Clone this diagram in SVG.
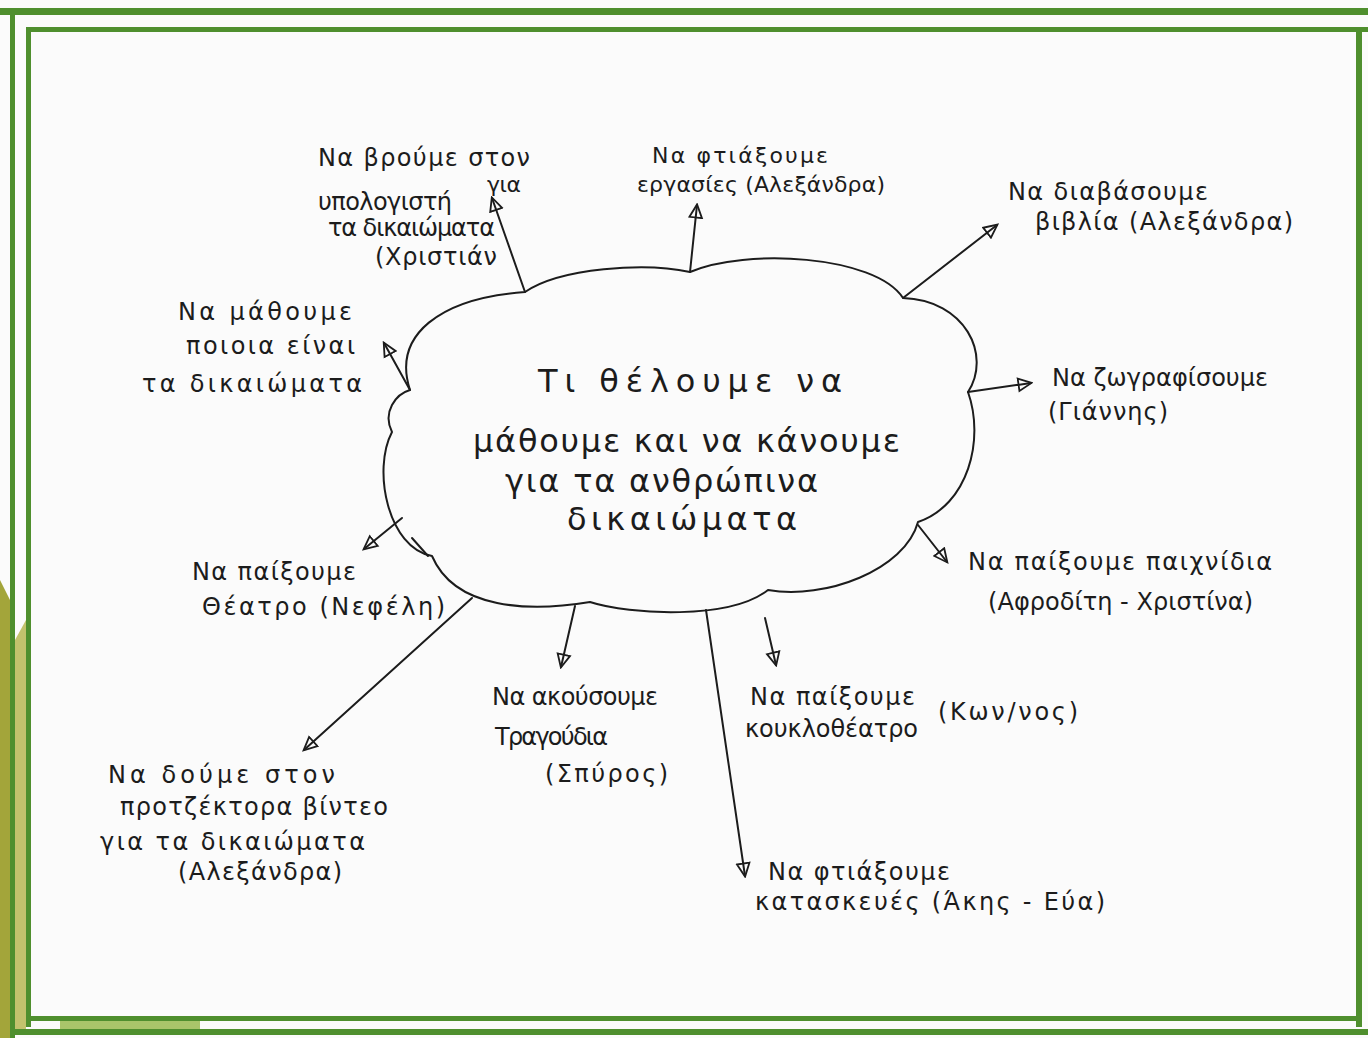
<svg xmlns="http://www.w3.org/2000/svg" width="1368" height="1038" viewBox="0 0 1368 1038">
<style>
.t{font-family:"DejaVu Sans","Liberation Sans",sans-serif;font-size:24px;fill:#1c1c1c;}
.s{font-size:22px;}
.c{font-family:"DejaVu Sans","Liberation Sans",sans-serif;font-size:32px;fill:#1c1c1c;}
.ln{fill:none;stroke:#1c1c1c;stroke-width:2;stroke-linecap:round;stroke-linejoin:round;}
.g{fill:#4f8f2e;}
</style>
<defs>
<marker id="ah" viewBox="0 0 14 14" refX="12" refY="7" markerWidth="16" markerHeight="16" markerUnits="userSpaceOnUse" orient="auto">
<path d="M1,1.5 L12.5,7 L1,12.5 Z" fill="none" stroke="#1c1c1c" stroke-width="1.6"/>
</marker>
</defs>
<rect width="1368" height="1038" fill="#fbfbfb"/>
<g id="frame">
<rect class="g" x="0" y="8" width="1368" height="7"/>
<rect class="g" x="26" y="27" width="1342" height="5"/>
<rect class="g" x="10" y="8" width="5" height="1030"/>
<rect class="g" x="26" y="27" width="5" height="1000"/>
<rect class="g" x="1356" y="27" width="6" height="1000"/>
<rect class="g" x="26" y="1016" width="1336" height="5"/>
<rect class="g" x="10" y="1029" width="1358" height="6"/>
<path d="M0,580 L10,600 L10,1038 L0,1038 Z" fill="#a3a53a"/>
<path d="M15,640 L26,620 L26,1029 L15,1029 Z" fill="#b4b44a" opacity="0.8"/>
<rect x="60" y="1021" width="140" height="8" fill="#a9c56a"/>
</g>
<g id="connectors">
<path class="ln" marker-end="url(#ah)" d="M525,292 L492,198"/>
<path class="ln" marker-end="url(#ah)" d="M690,272 L697,205"/>
<path class="ln" marker-end="url(#ah)" d="M903,298 L997,225"/>
<path class="ln" marker-end="url(#ah)" d="M410,390 L384,343"/>
<path class="ln" marker-end="url(#ah)" d="M968,392 L1031,383"/>
<path class="ln" marker-end="url(#ah)" d="M402,518 L364,549"/>
<path class="ln" marker-end="url(#ah)" d="M918,525 L947,562"/>
<path class="ln" marker-end="url(#ah)" d="M472,598 L304,750"/>
<path class="ln" marker-end="url(#ah)" d="M575,606 L561,667"/>
<path class="ln" marker-end="url(#ah)" d="M765,618 L776,665"/>
<path class="ln" marker-end="url(#ah)" d="M706,610 L745,876"/>
</g>
<g id="center">
<path class="ln" d="M410,390 C392,335 440,298 525,292 C560,268 645,262 690,272 C745,248 875,255 903,298 C965,300 992,355 968,392 C985,440 968,505 918,522 C905,570 825,600 768,590 C730,620 630,615 590,602 C530,612 455,610 432,556 C388,548 372,470 392,432 C382,412 396,394 410,390 Z"/>
<path class="ln" d="M412,538 L428,556"/>
<text class="c" x="538" y="392" textLength="304" lengthAdjust="spacing">Τι θέλουμε να</text>
<text class="c" x="473" y="452" textLength="427" lengthAdjust="spacing">μάθουμε και να κάνουμε</text>
<text class="c" x="505" y="492" textLength="313" lengthAdjust="spacing">για τα ανθρώπινα</text>
<text class="c" x="567" y="530" textLength="230" lengthAdjust="spacing">δικαιώματα</text>
</g>
<g id="n1">
<text class="t" x="318" y="166" textLength="212" lengthAdjust="spacing">Να βρούμε στον</text>
<text class="t s" x="487" y="192" textLength="34" lengthAdjust="spacing">για</text>
<text class="t" x="318" y="210" textLength="134" lengthAdjust="spacing">υπολογιστή</text>
<text class="t" x="328" y="236" textLength="167" lengthAdjust="spacing">τα δικαιώματα</text>
<text class="t" x="375" y="265" textLength="122" lengthAdjust="spacing">(Χριστιάν</text>
</g>
<g id="n2">
<text class="t s" x="652" y="163" textLength="176" lengthAdjust="spacing">Να φτιάξουμε</text>
<text class="t s" x="637" y="192" textLength="248" lengthAdjust="spacing">εργασίες (Αλεξάνδρα)</text>
</g>
<g id="n3">
<text class="t" x="1008" y="200" textLength="200" lengthAdjust="spacing">Να διαβάσουμε</text>
<text class="t" x="1035" y="230" textLength="258" lengthAdjust="spacing">βιβλία (Αλεξάνδρα)</text>
</g>
<g id="n4">
<text class="t" x="178" y="320" textLength="174" lengthAdjust="spacing">Να μάθουμε</text>
<text class="t" x="186" y="354" textLength="169" lengthAdjust="spacing">ποιοια είναι</text>
<text class="t" x="142" y="392" textLength="220" lengthAdjust="spacing">τα δικαιώματα</text>
</g>
<g id="n5">
<text class="t" x="1052" y="386" textLength="216" lengthAdjust="spacing">Να ζωγραφίσουμε</text>
<text class="t" x="1048" y="420" textLength="120" lengthAdjust="spacing">(Γιάννης)</text>
</g>
<g id="n6">
<text class="t" x="192" y="580" textLength="164" lengthAdjust="spacing">Να παίξουμε</text>
<text class="t" x="202" y="615" textLength="243" lengthAdjust="spacing">Θέατρο (Νεφέλη)</text>
</g>
<g id="n7">
<text class="t" x="968" y="570" textLength="304" lengthAdjust="spacing">Να παίξουμε παιχνίδια</text>
<text class="t" x="988" y="610" textLength="265" lengthAdjust="spacing">(Αφροδίτη - Χριστίνα)</text>
</g>
<g id="n8">
<text class="t" x="492" y="705" textLength="166" lengthAdjust="spacing">Να ακούσουμε</text>
<text class="t" x="495" y="745" textLength="113" lengthAdjust="spacing">Τραγούδια</text>
<text class="t" x="545" y="782" textLength="123" lengthAdjust="spacing">(Σπύρος)</text>
</g>
<g id="n9">
<text class="t" x="750" y="705" textLength="165" lengthAdjust="spacing">Να παίξουμε</text>
<text class="t" x="745" y="737" textLength="173" lengthAdjust="spacing">κουκλοθέατρο</text>
<text class="t" x="938" y="720" textLength="140" lengthAdjust="spacing">(Κων/νος)</text>
</g>
<g id="n10">
<text class="t" x="108" y="783" textLength="227" lengthAdjust="spacing">Να δούμε στον</text>
<text class="t" x="120" y="815" textLength="268" lengthAdjust="spacing">προτζέκτορα βίντεο</text>
<text class="t" x="100" y="850" textLength="265" lengthAdjust="spacing">για τα δικαιώματα</text>
<text class="t" x="178" y="880" textLength="164" lengthAdjust="spacing">(Αλεξάνδρα)</text>
</g>
<g id="n11">
<text class="t" x="768" y="880" textLength="182" lengthAdjust="spacing">Να φτιάξουμε</text>
<text class="t" x="755" y="910" textLength="350" lengthAdjust="spacing">κατασκευές (Άκης - Εύα)</text>
</g>
</svg>
